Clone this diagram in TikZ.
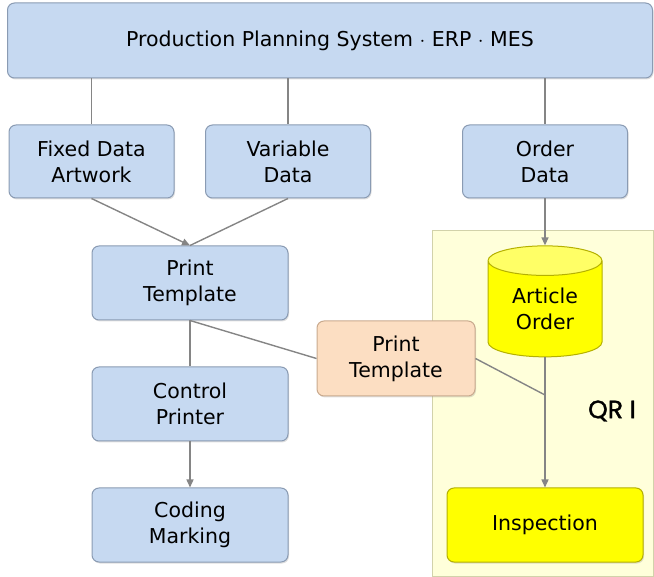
\documentclass[tikz,border=0pt]{standalone}
\usepackage{fontspec}
\setmainfont{DejaVu Sans}
\newfontfamily\qrfont[FakeBold=1.5]{Poppins}
\usetikzlibrary{arrows.meta,positioning,shapes.geometric,shadows}
\definecolor{boxblue}{HTML}{C6D9F1}
\definecolor{boxedge}{HTML}{8A9BB3}
\definecolor{boxorange}{HTML}{FCDEC2}
\definecolor{orangeedge}{HTML}{C9AA8E}
\definecolor{boxyellow}{HTML}{FFFF00}
\definecolor{yellowtop}{HTML}{FFFF66}
\definecolor{yellowedge}{HTML}{B5B000}
\definecolor{qrfill}{HTML}{FFFFDA}
\definecolor{qredge}{HTML}{D2D2AA}
\definecolor{linegray}{HTML}{858585}

\begin{document}
\begin{tikzpicture}
	[x=1pt, y=-1pt,
	every node/.style={font=\fontsize{20.5}{26}\selectfont},
	bbox/.style={rectangle, rounded corners=7pt, draw=boxedge, fill=boxblue, line width=1pt, align=center, inner sep=0,
		drop shadow={opacity=0.25, shadow xshift=1pt, shadow yshift=-1.5pt}},
	obox/.style={bbox, draw=orangeedge, fill=boxorange},
	ybox/.style={bbox, draw=yellowedge, fill=boxyellow},
	store/.style={cylinder, shape border rotate=90, aspect=0.45, draw=yellowedge, line width=1pt, align=center, inner sep=0,
		cylinder uses custom fill, cylinder body fill=boxyellow, cylinder end fill=yellowtop},
	link/.style={draw=linegray, line width=1.4pt},
	post/.style={link, -{Triangle[length=8pt, width=7pt]}}]
	\useasboundingbox (0,0) rectangle (654,577);
	\filldraw [fill=qrfill, draw=qredge, line width=1pt] (432,231) rectangle (653.5,576);
	\node (plan) [bbox, minimum width=645pt, minimum height=75pt] at (330,40.5) {Production Planning System $\cdot$ ERP $\cdot$ MES};
	\node (fixed) [bbox, minimum width=165pt, minimum height=73pt] at (91.5,161.5) {Fixed Data\\Artwork};
	\node (var) [bbox, minimum width=165pt, minimum height=73pt] at (288,161.5) {Variable\\Data};
	\node (order) [bbox, minimum width=165pt, minimum height=73pt] at (545,161.5) {Order\\Data};
	\node (tmpl) [bbox, minimum width=196pt, minimum height=74pt] at (190,283) {Print\\Template};
	\node (ctrl) [bbox, minimum width=196pt, minimum height=74pt] at (190,404) {Control\\Printer};
	\node (code) [bbox, minimum width=196pt, minimum height=74pt] at (190,525) {Coding\\Marking};
	\node (db) [store, minimum width=114pt, minimum height=111pt] at (545,309) {Article\\Order};
	\node (share) [obox, minimum width=158pt, minimum height=75pt] at (396,358.5) {Print\\Template};
	\node (insp) [ybox, minimum width=196pt, minimum height=74pt] at (545,525) {Inspection};
	\node (qr) at (612,411) {\qrfont\fontsize{25}{28}\selectfont QR I};
	\coordinate (join) at (545,395);
	\draw [link] (plan.south -| fixed) -- (fixed);
	\draw [link] (plan.south -| var) -- (var);
	\draw [link] (plan.south -| order) -- (order);
	\draw [post] (fixed.south) -- (tmpl.north);
	\draw [link] (var.south) -- (tmpl.north);
	\draw [link] (tmpl) -- (ctrl);
	\draw [post] (ctrl) -- (code);
	\draw [link] (tmpl.south) -- (share.west);
	\draw [link] (share.east) -- (join);
	\draw [post] (order) -- (db.top);
	\draw [post] (db.bottom) -- (insp);
\end{tikzpicture}
\end{document}
